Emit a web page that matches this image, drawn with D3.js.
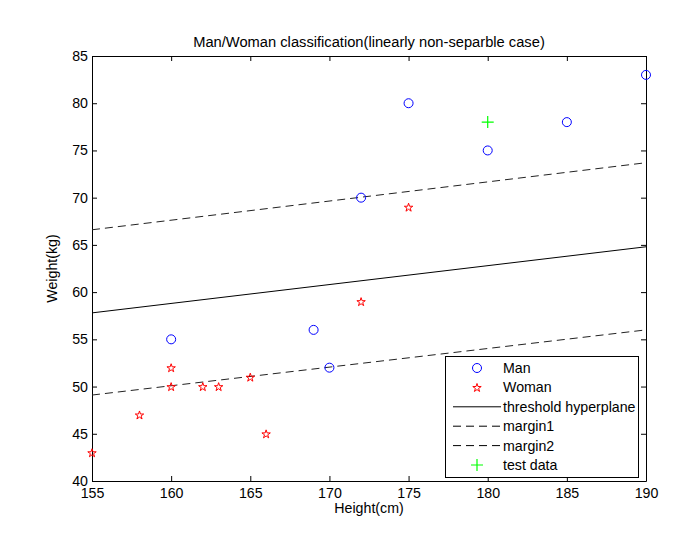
<!DOCTYPE html>
<html><head><meta charset="utf-8">
<script src="https://cdn.jsdelivr.net/npm/d3@7"></script>
<style>body{margin:0;background:#fff}svg{display:block}text{font-family:Arial,"Liberation Sans",Helvetica,sans-serif}</style>
</head><body>
<script>
const manHeight = [160,169,170,172,175,180,185,190];
const manWeight = [55,56,52,70,80,75,78,83];
const womanHeight = [155,158,160,160,162,163,165,166,172,175];
const womanWeight = [43,47,52,50,50,50,51,45,59,69];
const testHeight = [180];
const testWeight = [78];
const lineHeights = [155,190];
const thresholdWeight = [57.8,64.8];
const margin1Weight = [66.6,73.7];
const margin2Weight = [49.1,56.0];
const xTicks = [155,160,165,170,175,180,185,190];
const yTicks = [40,45,50,55,60,65,70,75,80,85];
const legendLabels = ["Man","Woman","threshold hyperplane","margin1","margin2","test data"];

const W=692,H=536;
const m={l:92,r:46,t:56,b:55};
const svg=d3.select("body").append("svg").attr("width",W).attr("height",H);
const x=d3.scaleLinear().domain([155,190]).range([m.l,W-m.r]);
const y=d3.scaleLinear().domain([40,85]).range([H-m.b,m.t]);
const fs=14.2;

// axes
const ax=(g,axis)=>{g.call(axis);g.selectAll(".domain").attr("stroke","#000");g.selectAll("line").attr("stroke","#000");g.selectAll("text").attr("fill","#000").style("font-size",fs+"px");};
svg.append("g").attr("transform",`translate(0,${y(40)})`).call(g=>ax(g,d3.axisBottom(x).tickValues(xTicks).tickSizeInner(-5).tickSizeOuter(0).tickPadding(7)));
svg.append("g").attr("transform",`translate(0,${y(85)})`).call(g=>ax(g,d3.axisTop(x).tickValues(xTicks).tickSizeInner(-5).tickSizeOuter(0).tickFormat("")));
svg.append("g").attr("transform",`translate(${x(155)},0)`).call(g=>ax(g,d3.axisLeft(y).tickValues(yTicks).tickSizeInner(-5).tickSizeOuter(0).tickPadding(4)));
svg.append("g").attr("transform",`translate(${x(190)},0)`).call(g=>ax(g,d3.axisRight(y).tickValues(yTicks).tickSizeInner(-5).tickSizeOuter(0).tickFormat("")));

const line=d3.line().x(d=>x(d[0])).y(d=>y(d[1]));
const mk=(ws)=>lineHeights.map((h,i)=>[h,ws[i]]);
svg.append("path").attr("d",line(mk(thresholdWeight))).attr("stroke","#000").attr("fill","none").attr("stroke-width",1);
svg.append("path").attr("d",line(mk(margin1Weight))).attr("stroke","#222").attr("fill","none").attr("stroke-width",1).attr("stroke-dasharray","8,5");
svg.append("path").attr("d",line(mk(margin2Weight))).attr("stroke","#222").attr("fill","none").attr("stroke-width",1).attr("stroke-dasharray","8,5");

const star=d3.symbol().type(d3.symbolStar).size(22);
function drawMan(g,cx,cy){g.append("circle").attr("cx",cx).attr("cy",cy).attr("r",4.5).attr("fill","none").attr("stroke","#0000ff").attr("stroke-width",1);}
function drawWoman(g,cx,cy){g.append("path").attr("d",star()).attr("transform",`translate(${cx},${cy+0.5})`).attr("fill","none").attr("stroke","#ff0000").attr("stroke-width",1);}
function drawTest(g,cx,cy){g.append("path").attr("d",`M${cx-6},${cy}H${cx+6}M${cx},${cy-6}V${cy+6}`).attr("stroke","#00ff00").attr("stroke-width",1.2);}

const pts=svg.append("g");
manHeight.forEach((h,i)=>drawMan(pts,x(h),y(manWeight[i])));
womanHeight.forEach((h,i)=>drawWoman(pts,x(h),y(womanWeight[i])));
testHeight.forEach((h,i)=>drawTest(pts,x(h),y(testWeight[i])));

// labels
svg.append("text").attr("x",(x(155)+x(190))/2).attr("y",47).attr("text-anchor","middle").style("font-size","14.7px").text("Man/Woman classification(linearly non-separble case)");
svg.append("text").attr("x",(x(155)+x(190))/2).attr("y",513).attr("text-anchor","middle").style("font-size",fs+"px").text("Height(cm)");
svg.append("text").attr("transform",`translate(57,${(y(40)+y(85))/2}) rotate(-90)`).attr("text-anchor","middle").style("font-size",fs+"px").text("Weight(kg)");

// legend
const lg=svg.append("g");
lg.append("rect").attr("x",445.5).attr("y",356.5).attr("width",193).attr("height",121).attr("fill","#fff").attr("stroke","#000");
const rowY=i=>368+i*19.4;
legendLabels.forEach((t,i)=>{
  const cy=rowY(i);
  lg.append("text").attr("x",503).attr("y",cy+5).style("font-size",fs+"px").text(t);
  if(i===0) drawMan(lg,477,cy);
  else if(i===1) drawWoman(lg,477,cy);
  else if(i===5) drawTest(lg,477,cy);
  else lg.append("line").attr("x1",453).attr("x2",501).attr("y1",cy).attr("y2",cy).attr("stroke","#000").attr("stroke-dasharray",i===2?null:"8,5");
});
</script>
</body></html>
